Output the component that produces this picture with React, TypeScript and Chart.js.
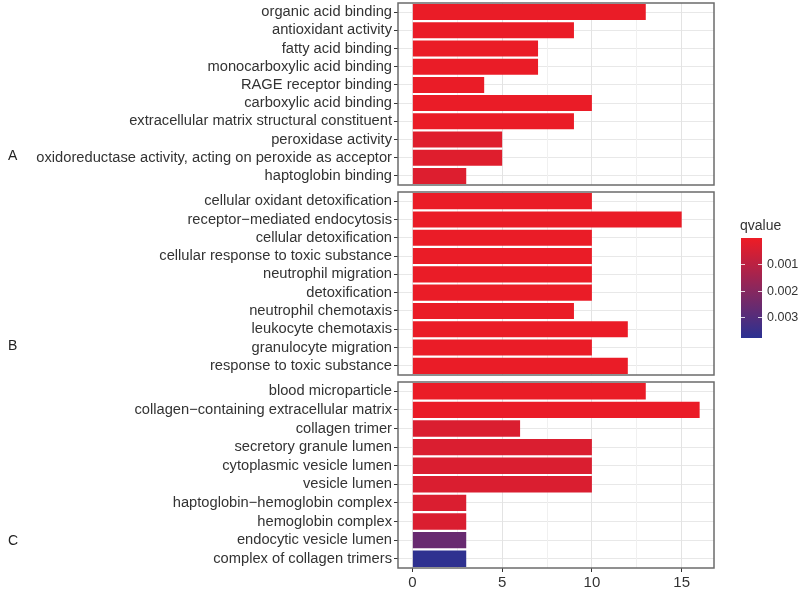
import React, { useEffect, useRef } from 'react';
import { Chart, registerables } from 'chart.js';

Chart.register(...registerables);

// ---------- data ----------
const termsA = [
  'organic acid binding',
  'antioxidant activity',
  'fatty acid binding',
  'monocarboxylic acid binding',
  'RAGE receptor binding',
  'carboxylic acid binding',
  'extracellular matrix structural constituent',
  'peroxidase activity',
  'oxidoreductase activity, acting on peroxide as acceptor',
  'haptoglobin binding',
];
const countsA = [13, 9, 7, 7, 4, 10, 9, 5, 5, 3];
const qvaluesA = [0.0001, 0.0001, 0.0001, 0.0001, 0.0001, 0.0001, 0.0001, 0.0003, 0.0003, 0.00035];

const termsB = [
  'cellular oxidant detoxification',
  'receptor\u2212mediated endocytosis',
  'cellular detoxification',
  'cellular response to toxic substance',
  'neutrophil migration',
  'detoxification',
  'neutrophil chemotaxis',
  'leukocyte chemotaxis',
  'granulocyte migration',
  'response to toxic substance',
];
const countsB = [10, 15, 10, 10, 10, 10, 9, 12, 10, 12];
const qvaluesB = [0.0001, 0.0001, 0.0001, 0.0001, 0.0001, 0.0001, 0.0001, 0.0001, 0.0001, 0.0001];

const termsC = [
  'blood microparticle',
  'collagen\u2212containing extracellular matrix',
  'collagen trimer',
  'secretory granule lumen',
  'cytoplasmic vesicle lumen',
  'vesicle lumen',
  'haptoglobin\u2212hemoglobin complex',
  'hemoglobin complex',
  'endocytic vesicle lumen',
  'complex of collagen trimers',
];
const countsC = [13, 16, 6, 10, 10, 10, 3, 3, 3, 3];
const qvaluesC = [0.0001, 0.0001, 0.0004, 0.0004, 0.0004, 0.0004, 0.0004, 0.0004, 0.0026, 0.0037];

const facetLetters = ['A', 'B', 'C'];
const legendTicks = [0.001, 0.002, 0.003];
const xTickLabels = [0, 5, 10, 15];

// ---------- styling ----------
const Q_MIN = 0.00002;
const Q_MAX = 0.00378;
const LOW_RGB = [238, 28, 37];
const HIGH_RGB = [43, 49, 146];
const FONT = "'Liberation Sans', Arial, Helvetica, sans-serif";
const X_MIN = -0.8;
const X_MAX = 16.8;

function qColor(q: number): string {
  let t = (q - Q_MIN) / (Q_MAX - Q_MIN);
  t = Math.max(0, Math.min(1, t));
  const c = LOW_RGB.map((l, i) => Math.round(l + (HIGH_RGB[i] - l) * t));
  return `rgb(${c[0]},${c[1]},${c[2]})`;
}

const framePlugin = {
  id: 'frame',
  afterDraw(chart: any) {
    const { ctx, chartArea } = chart;
    ctx.save();
    ctx.strokeStyle = '#6b6b6b';
    ctx.lineWidth = 1.5;
    ctx.strokeRect(chartArea.left, chartArea.top, chartArea.right - chartArea.left, chartArea.bottom - chartArea.top);
    ctx.restore();
  },
};

type PanelProps = {
  labels: string[];
  values: number[];
  qvalues: number[];
  top: number;
  height: number;
  padTop: number;
  padBottom: number;
  showX: boolean;
};

function Panel({ labels, values, qvalues, top, height, padTop, padBottom, showX }: PanelProps) {
  const ref = useRef<HTMLCanvasElement | null>(null);
  useEffect(() => {
    if (!ref.current) return;
    const chart = new Chart(ref.current, {
      type: 'bar',
      data: {
        labels,
        datasets: [
          {
            data: values,
            backgroundColor: qvalues.map(qColor),
            borderWidth: 0,
            barPercentage: 0.88,
            categoryPercentage: 1,
          },
        ],
      },
      options: {
        indexAxis: 'y',
        responsive: false,
        maintainAspectRatio: false,
        animation: false,
        devicePixelRatio: 1,
        layout: { padding: { top: padTop, bottom: padBottom, left: 0, right: 86 } },
        plugins: { legend: { display: false }, tooltip: { enabled: false } },
        scales: {
          y: {
            type: 'category',
            offset: true,
            border: { display: false },
            grid: {
              offset: false,
              color: '#e8e8e8',
              lineWidth: 1,
              drawTicks: true,
              tickLength: 4,
              tickColor: '#333333',
              tickWidth: 1,
            },
            ticks: {
              padding: 2,
              color: '#333333',
              font: { family: FONT, size: 14.7 },
              autoSkip: false,
            },
            afterFit: (s: any) => {
              s.width = 398;
              s.paddingTop = 0;
              s.paddingBottom = 0;
            },
          },
          x: {
            type: 'linear',
            min: X_MIN,
            max: X_MAX,
            border: { display: false },
            grid: {
              color: (ctx: any) => (ctx.tick && ctx.tick.value % 5 === 0 ? '#e3e3e3' : '#f0f0f0'),
              lineWidth: 1,
              drawTicks: showX,
              tickLength: 4,
              tickColor: (ctx: any) =>
                ctx.tick && xTickLabels.includes(ctx.tick.value) ? '#333333' : 'rgba(0,0,0,0)',
            },
            ticks: {
              display: showX,
              stepSize: 2.5,
              includeBounds: false,
              autoSkip: false,
              maxRotation: 0,
              padding: 2,
              color: '#333333',
              font: { family: FONT, size: 15 },
              callback: (v: any) => (xTickLabels.includes(Number(v)) ? String(v) : ''),
            },
            afterFit: (s: any) => {
              s.height = showX ? 21 : 0;
              s.paddingLeft = 0;
              s.paddingRight = 0;
            },
          },
        },
      },
      plugins: [framePlugin],
    });
    return () => chart.destroy();
  }, []);
  return (
    <canvas
      ref={ref}
      width={800}
      height={height}
      style={{ position: 'absolute', left: 0, top, width: 800, height }}
    />
  );
}

const BAR_TOP = 238;
const BAR_H = 100;
function qToY(q: number) {
  return BAR_TOP + ((q - Q_MIN) / (Q_MAX - Q_MIN)) * BAR_H;
}

export default function App() {
  const stops: string[] = [];
  for (let i = 0; i <= 10; i++) {
    const q = Q_MIN + ((Q_MAX - Q_MIN) * i) / 10;
    stops.push(`${qColor(q)} ${i * 10}%`);
  }
  const letterY = [155, 345, 540];
  return (
    <div
      style={{
        position: 'fixed',
        left: 0,
        top: 0,
        width: 800,
        height: 589,
        background: '#ffffff',
        overflow: 'hidden',
        fontFamily: FONT,
      }}
    >
      <Panel labels={termsA} values={countsA} qvalues={qvaluesA} top={0} height={190} padTop={3} padBottom={5} showX={false} />
      <Panel labels={termsB} values={countsB} qvalues={qvaluesB} top={188} height={192} padTop={4} padBottom={5} showX={false} />
      <Panel labels={termsC} values={countsC} qvalues={qvaluesC} top={378} height={211} padTop={4} padBottom={0} showX={true} />

      {facetLetters.map((l, i) => (
        <div
          key={l}
          style={{
            position: 'absolute',
            left: 8,
            top: letterY[i] - 9,
            height: 18,
            lineHeight: '18px',
            fontSize: 14,
            color: '#222',
          }}
        >
          {l}
        </div>
      ))}

      <div
        style={{
          position: 'absolute',
          left: 740,
          top: 216,
          lineHeight: '18px',
          fontSize: 14,
          color: '#333',
        }}
      >
        qvalue
      </div>
      <div
        style={{
          position: 'absolute',
          left: 741,
          top: BAR_TOP,
          width: 21,
          height: BAR_H,
          background: `linear-gradient(to bottom, ${stops.join(', ')})`,
        }}
      />
      {legendTicks.map((q) => (
        <React.Fragment key={q}>
          <div style={{ position: 'absolute', left: 741, top: Math.round(qToY(q)), width: 4, height: 1, background: 'rgba(255,255,255,0.8)' }} />
          <div style={{ position: 'absolute', left: 758, top: Math.round(qToY(q)), width: 4, height: 1, background: 'rgba(255,255,255,0.8)' }} />
          <div
            style={{
              position: 'absolute',
              left: 767,
              top: qToY(q) - 8,
              lineHeight: '16px',
              fontSize: 12.5,
              color: '#333',
            }}
          >
            {q.toFixed(3)}
          </div>
        </React.Fragment>
      ))}
    </div>
  );
}
